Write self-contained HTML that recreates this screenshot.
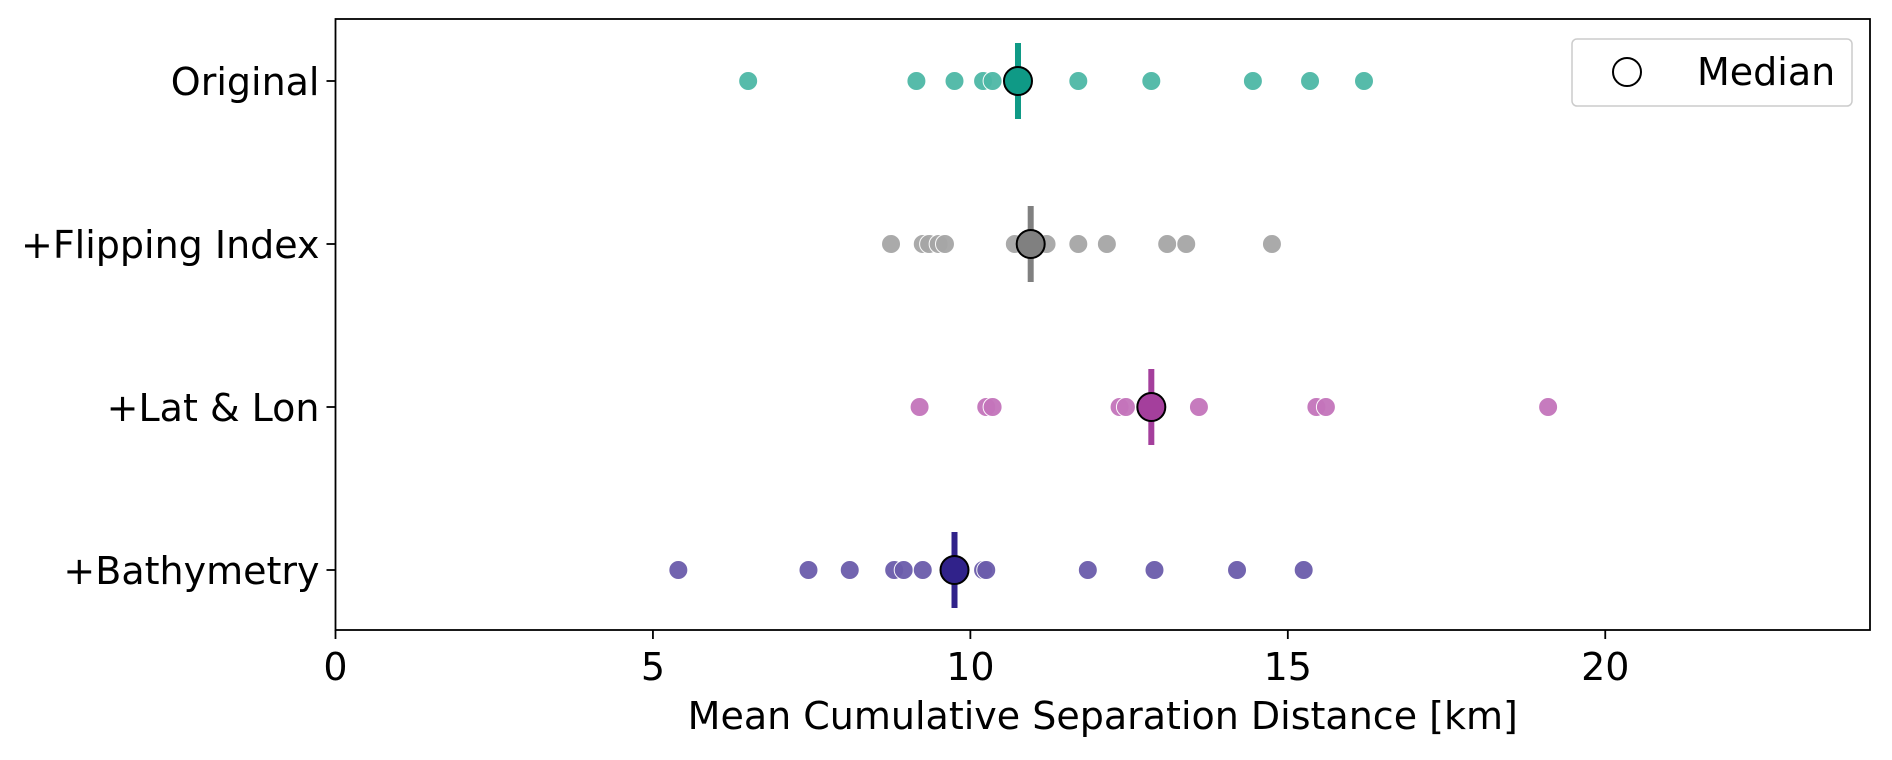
<!DOCTYPE html>
<html><head><meta charset="utf-8"><style>
body{margin:0;background:#fff;}
svg text{font-family:"DejaVu Sans","Liberation Sans",sans-serif;fill:#000;}
</style></head><body>
<svg id="chart" width="1892" height="755" viewBox="0 0 1892 755"></svg>
<script>
const categories=["Original","+Flipping Index","+Lat & Lon","+Bathymetry"];
const originalValues=[6.5,9.15,9.75,10.2,10.35,11.7,12.85,14.45,15.35,16.2];
const flippingValues=[8.75,9.25,9.35,9.5,9.6,10.7,11.2,11.7,12.15,13.1,13.4,14.75];
const latLonValues=[9.2,10.25,10.35,12.35,12.45,13.6,15.45,15.6,19.1];
const bathyValues=[5.4,7.45,8.1,8.8,8.95,9.25,10.2,10.25,11.85,12.9,14.2,15.25];
const medians=[10.75,10.95,12.85,9.75];
const xTicks=[0,5,10,15,20];
const seriesValues=[originalValues,flippingValues,latLonValues,bathyValues];
const dotColors=["#4db8a6","#a6a6a6","#c474bb","#6b5cab"];
const medColors=["#0f9a86","#808080","#a43f9c","#30228a"];

const svg=document.getElementById('chart');
const NS="http://www.w3.org/2000/svg";
const L=335.5,R=1870,T=19,B=630,XMAX=24.17;
const x=v=>L+v/XMAX*(R-L);
const rowY=[81,244,407,570];
const y=i=>rowY[0]+i*(rowY[3]-rowY[0])/3;
function mk(t,a,p){const e=document.createElementNS(NS,t);for(const k in a)e.setAttribute(k,a[k]);(p||svg).appendChild(e);return e;}

const frame=mk('rect',{x:L,y:T,width:R-L,height:B-T,fill:'none',stroke:'#000','stroke-width':1.8});



xTicks.forEach(t=>{
  const l=mk('line',{x1:x(t),x2:x(t),y1:B,y2:B+9,stroke:'#000','stroke-width':1.8});
  
  
  const tx=mk('text',{x:x(t),y:680,'text-anchor':'middle','font-size':38});
  tx.textContent=t;
  
  
});
const xl=mk('text',{x:(L+R)/2,y:729,'text-anchor':'middle','font-size':38});
xl.textContent="Mean Cumulative Separation Distance [km]";



categories.forEach((c,i)=>{
  const yy=y(i);
  const l=mk('line',{x1:L-9,x2:L,y1:yy,y2:yy,stroke:'#000','stroke-width':1.8});
  
  
  const tx=mk('text',{x:L-16,y:yy+14,'text-anchor':'end','font-size':38});
  tx.textContent=c;
  
  
  seriesValues[i].forEach(v=>{
    const d=mk('circle',{cx:x(v),cy:yy,r:9.5,fill:dotColors[i],stroke:'#fff','stroke-width':1,opacity:0.95});
    
    
  });
  const ml=mk('line',{x1:x(medians[i]),x2:x(medians[i]),y1:yy-38,y2:yy+38,stroke:medColors[i],'stroke-width':6});
  
  
  const mc=mk('circle',{cx:x(medians[i]),cy:yy,r:14,fill:medColors[i],stroke:'#000','stroke-width':2});
  
  
});

const lg=mk('g',{});


mk('rect',{x:1572,y:39,width:280,height:67,rx:5,fill:'#fff',stroke:'#ccc','stroke-width':1.5},lg);
const lc=mk('circle',{cx:1627,cy:72,r:14,fill:'none',stroke:'#000','stroke-width':2},lg);


const lt=mk('text',{x:1697,y:85,'font-size':38},lg);
lt.textContent="Median";


</script>
</body></html>
